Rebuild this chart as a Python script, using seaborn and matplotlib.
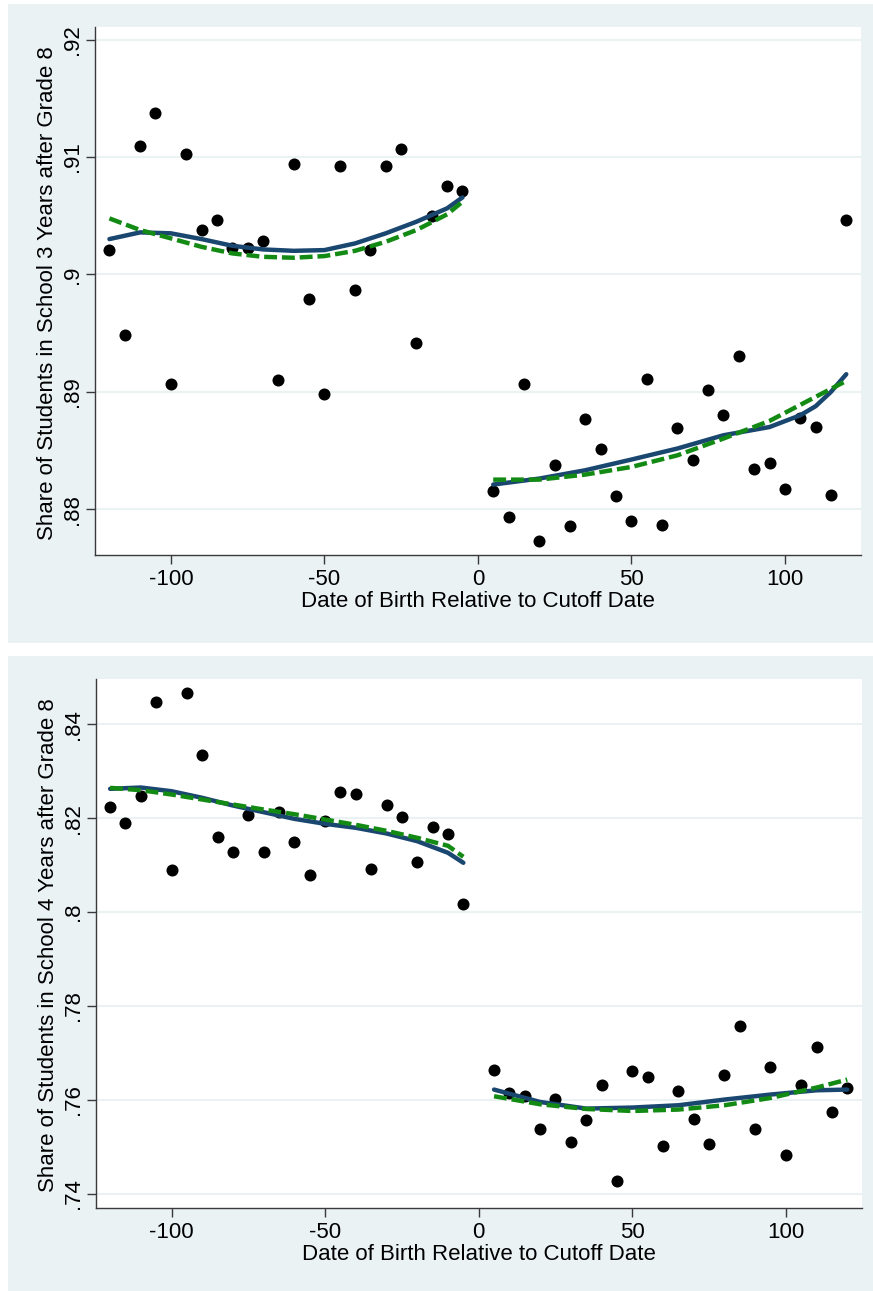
import numpy as np
import pandas as pd
import matplotlib
matplotlib.use("Agg")
import matplotlib.pyplot as plt
import seaborn as sns
from matplotlib.patches import Rectangle

# ---------------- data ----------------
days_left = list(range(-120, 0, 5))
days_right = list(range(5, 125, 5))

share3_left = [.90207, .8948, .91096, .91373, .89065, .91028, .90378, .9046,
               .90227, .90227, .90284, .89099, .9094, .89787, .8898, .90923,
               .89864, .90207, .90926, .91066, .89414, .90497, .9075, .90713]
share3_right = [.88153, .87931, .89065, .87729, .88377, .87857, .88769, .88511,
                .8811, .879, .89105, .87863, .8869, .88417, .89014, .88801,
                .89301, .8834, .88391, .8817, .88781, .887, .88121, .90463]

share4_left = [.82243, .81908, .82483, .84471, .80886, .84663, .83357, .8161,
               .81276, .82064, .81284, .82136, .81497, .8078, .81936, .82569,
               .8252, .80922, .82277, .82021, .81063, .81817, .81659, .80177]
share4_right = [.76635, .76145, .7609, .75372, .76017, .75101, .75578, .76309,
                .7427, .76621, .76486, .75016, .76188, .75592, .75052, .76529,
                .7758, .75379, .76692, .74825, .76309, .77118, .7574, .7626]

# fitted curves
fit_left_x = [-120, -110, -100, -90, -80, -70, -60, -50, -40, -30, -20, -10, -5]
lowess3_left = [.90301, .90358, .9035, .90301, .90244, .90213, .90201, .90207,
                .90264, .9035, .90449, .90563, .90656]
quad3_left = [.90477, .90378, .90307, .90235, .90179, .9015, .90142, .90156,
              .90201, .90278, .90378, .90512, .90619]
lowess3_right_x = [5, 20, 35, 50, 65, 80, 95, 105, 110, 115, 120]
lowess3_right = [.8821, .88261, .88332, .88423, .88517, .8863, .887, .888,
                 .88877, .88999, .8915]
fit_right_x = [5, 20, 35, 50, 65, 80, 95, 110, 120]
quad3_right = [.88252, .88252, .88295, .8836, .88459, .88602, .88752, .88957, .89093]

lowess4_left = [.82626, .82654, .82575, .82434, .8227, .82128, .81986, .8188,
                .81795, .81674, .8151, .81263, .8105]
quad4_left = [.82647, .82597, .82505, .82398, .82292, .82185, .82085, .81972,
              .81859, .81731, .81582, .81412, .81178]
lowess4_right = [.76217, .75953, .75812, .75834, .75883, .76004, .76111, .76202, .76217]
quad4_right = [.76075, .75904, .75804, .75761, .75791, .75883, .76038, .7626, .7643]

xticks = [-100, -50, 0, 50, 100]
xtick_labels = ["-100", "-50", "0", "50", "100"]
yticks3 = [.88, .89, .90, .91, .92]
ytick_labels3 = [".88", ".89", ".9", ".91", ".92"]
yticks4 = [.74, .76, .78, .80, .82, .84]
ytick_labels4 = [".74", ".76", ".78", ".8", ".82", ".84"]

xlabel = "Date of Birth Relative to Cutoff Date"
ylabel3 = "Share of Students in School 3 Years after Grade 8"
ylabel4 = "Share of Students in School 4 Years after Grade 8"

# ---------------- style ----------------
sns.set_theme(style="white")
plt.rcParams["font.family"] = ["Liberation Sans", "DejaVu Sans"]

BG = "#EAF2F3"
NAVY = "#1A476F"
GREEN = "#138A13"
AX = "#3A3A3A"
FS = 16

W, H = 873, 1291
fig = plt.figure(figsize=(W / 100, H / 100), dpi=100)
fig.patch.set_facecolor("white")

# panel backgrounds
fig.patches.append(Rectangle((8 / W, 1 - 643 / H), (W - 8) / W, (643 - 4) / H,
                             transform=fig.transFigure, facecolor=BG,
                             edgecolor="none", zorder=-10))
fig.patches.append(Rectangle((8 / W, 0), (W - 8) / W, (H - 656) / H,
                             transform=fig.transFigure, facecolor=BG,
                             edgecolor="none", zorder=-10))


def px_axes(l, r, t, b):
    return [l / W, 1 - b / H, (r - l) / W, (b - t) / H]


ax1 = fig.add_axes(px_axes(95, 860.7, 26.7, 555))
ax2 = fig.add_axes(px_axes(95.7, 861.7, 679.3, 1207.7))

DASH = (0, (2.9, 1.1))


def draw_panel(ax, yl, yr, lw_l, q_l, lw_rx, lw_r, q_r, yticks, ylabs, ylabel, ylim):
    ax.set_facecolor("white")
    left = pd.DataFrame({"x": days_left, "y": yl})
    right = pd.DataFrame({"x": days_right, "y": yr})
    sns.scatterplot(data=left, x="x", y="y", ax=ax, color="black", s=75,
                    linewidth=0, zorder=3)
    sns.scatterplot(data=right, x="x", y="y", ax=ax, color="black", s=75,
                    linewidth=0, zorder=3)
    sns.lineplot(x=fit_left_x, y=lw_l, ax=ax, color=NAVY, lw=3.2, zorder=4,
                 sort=False, solid_capstyle="round")
    sns.lineplot(x=lw_rx, y=lw_r, ax=ax, color=NAVY, lw=3.2, zorder=4,
                 sort=False, solid_capstyle="round")
    sns.lineplot(x=fit_left_x, y=q_l, ax=ax, color=GREEN, lw=3.2, zorder=5,
                 sort=False, linestyle=DASH)
    sns.lineplot(x=fit_right_x, y=q_r, ax=ax, color=GREEN, lw=3.2, zorder=5,
                 sort=False, linestyle=DASH)

    ax.set_xlim(-124.7, 124.7)
    ax.set_ylim(*ylim)
    ax.set_xticks(xticks)
    ax.set_xticklabels(xtick_labels)
    ax.set_yticks(yticks)
    ax.set_yticklabels(ylabs, rotation=90, va="center")
    ax.grid(axis="y", color=BG, lw=1.5, zorder=0)
    ax.grid(axis="x", visible=False)
    ax.set_axisbelow(True)
    for s in ["top", "right"]:
        ax.spines[s].set_visible(False)
    for s in ["left", "bottom"]:
        ax.spines[s].set_color(AX)
        ax.spines[s].set_linewidth(1.0)
    ax.tick_params(axis="both", direction="out", length=6.5, width=1.0,
                   color=AX, labelsize=FS, labelcolor="black",
                   left=True, bottom=True)
    ax.tick_params(axis="x", pad=3.5)
    ax.tick_params(axis="y", pad=2)
    ax.set_xlabel(xlabel, fontsize=FS, color="black")
    ax.set_ylabel(ylabel, fontsize=FS, color="black")
    ax.xaxis.set_label_coords(0.5, -0.068)
    ax.yaxis.set_label_coords(-0.048, 0.496)


draw_panel(ax1, share3_left, share3_right, lowess3_left, quad3_left,
           lowess3_right_x, lowess3_right, quad3_right,
           yticks3, ytick_labels3, ylabel3, (.8761, .9211))
draw_panel(ax2, share4_left, share4_right, lowess4_left, quad4_left,
           fit_right_x, lowess4_right, quad4_right,
           yticks4, ytick_labels4, ylabel4, (.737, .8496))

fig.savefig("out.png", dpi=100, facecolor=fig.get_facecolor())
